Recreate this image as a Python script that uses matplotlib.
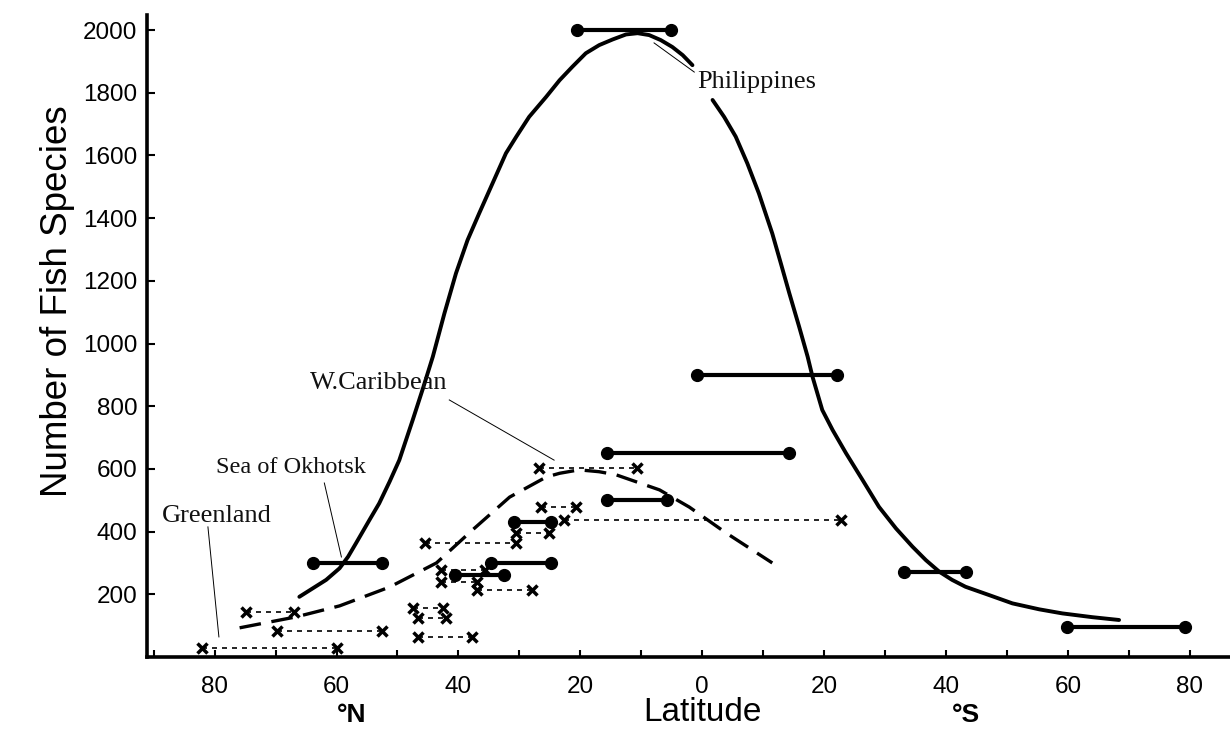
import numpy as np
import matplotlib
matplotlib.use("Agg")
import matplotlib.pyplot as plt

# latitude: north negative, south positive (labels show absolute degrees)
total_lat = [-66.1, -63.9, -61.7, -59.5, -58.1, -56.8, -54.6, -53.0, -51.3, -49.7,
             -48.6, -47.5, -45.8, -44.2, -42.3, -40.4, -38.5, -36.6, -34.4, -32.2,
             -30.5, -28.4, -25.6, -23.4, -21.3, -19.1, -16.9, -14.7, -12.5, -10.6,
             -8.7, -6.8, -4.9, -3.2, -1.6]
total_species = [192, 219, 246, 283, 320, 363, 437, 490, 559, 628,
                 692, 756, 858, 958, 1096, 1224, 1330, 1415, 1511, 1607,
                 1660, 1723, 1787, 1840, 1883, 1926, 1952, 1970, 1986, 1990,
                 1984, 1968, 1946, 1920, 1888]
total_lat_s = [1.7, 3.6, 5.5, 7.4, 9.3, 10.4, 11.5, 12.9, 14.3, 15.9, 17.3, 18.1,
               19.7, 21.4, 23.6, 26.3, 29.0, 31.8, 34.5, 36.7, 38.9, 41.0, 43.2,
               47.0, 50.9, 55.3, 59.1, 64.0, 68.4]
total_species_s = [1777, 1723, 1660, 1575, 1479, 1415, 1351, 1256, 1160, 1054, 958, 894,
                   788, 724, 650, 565, 479, 410, 352, 309, 272, 246, 224,
                   198, 171, 152, 139, 127, 118]

atlantic_lat = [-75.9, -66.6, -59.5, -51.3, -43.6, -37.7, -31.6, -25.6, -23.4, -20.2,
                -16.9, -14.1, -7.0, -2.1, 3.9, 11.5]
atlantic_species = [93, 128, 163, 223, 300, 405, 510, 574, 586, 597,
                    591, 581, 533, 478, 396, 300]

# Indo-Pacific sites: latitude range and species count
pacific_from = [-20.5, -0.8, -15.6, -15.6, -30.8, -34.6, -40.5, -63.9, 33.1, 59.8]
pacific_to = [-5.1, 22.1, 14.3, -5.7, -24.8, -24.8, -32.5, -52.6, 43.3, 79.3]
pacific_count = [2000, 900, 650, 500, 430, 300, 262, 300, 270, 96]

# Atlantic sites
atl_from = [-82.1, -74.8, -69.7, -46.7, -47.5, -46.7, -37.0, -42.8, -42.8,
            -45.5, -30.5, -26.4, -22.6, -26.7]
atl_to = [-60.0, -66.9, -52.6, -37.7, -42.6, -42.0, -27.9, -35.7, -36.9,
          -30.5, -25.1, -20.7, 22.8, -10.7]
atl_count = [30, 143, 83, 64, 156, 124, 214, 278, 240, 365, 395, 478, 437, 603]

# name, text position, leader line start, leader line end, font size
site_labels = [
    ("Philippines", (9.0, 1834), (-1.3, 1866), (-7.9, 1959), 19),
    ("W.Caribbean", (-53.0, 874), (-41.5, 820), (-24.3, 628), 19),
    ("Sea of Okhotsk", (-67.5, 606), (-62.0, 555), (-59.2, 319), 17.5),
    ("Greenland", (-79.7, 450), (-81.1, 415), (-79.3, 64), 19),
]

x_ticks = [-80, -60, -40, -20, 0, 20, 40, 60, 80]
x_tick_labels = ["80", "60", "40", "20", "0", "20", "40", "60", "80"]
y_ticks = [200, 400, 600, 800, 1000, 1200, 1400, 1600, 1800, 2000]

plt.rcParams['font.family'] = ['Liberation Sans', 'DejaVu Sans']

fig = plt.figure(figsize=(12.3, 7.29), dpi=100)
ax = fig.add_axes([0.1195, 0.0988, 0.8795, 0.8806])
ax.set_xlim(-91.1, 86.4)
ax.set_ylim(0, 2048)

# bell curves
curve_kw = dict(color='black', lw=2.8, solid_capstyle='round', solid_joinstyle='round')
ax.plot(total_lat, total_species, **curve_kw)
ax.plot(total_lat_s, total_species_s, **curve_kw)
ax.plot(atlantic_lat, atlantic_species, color='black', lw=2.4,
        linestyle=(0, (6.5, 3.2)), dash_joinstyle='round')

# dotted ranges with x ends
for a, b, v in zip(atl_from, atl_to, atl_count):
    ax.plot([a, b], [v, v], color='black', lw=1.2, linestyle=(0, (3, 3)),
            marker='x', markersize=7, markeredgewidth=2.5)

# solid ranges with dot ends
for a, b, v in zip(pacific_from, pacific_to, pacific_count):
    ax.plot([a, b], [v, v], color='black', lw=3, marker='o', markersize=8.5)

for name, txt, p0, p1, fs in site_labels:
    ax.plot([p0[0], p1[0]], [p0[1], p1[1]], color='black', lw=0.7)
    ax.text(txt[0], txt[1], name, family='Liberation Serif', fontsize=fs,
            ha='center', va='center', color='#111111')

for side in ['top', 'right']:
    ax.spines[side].set_visible(False)
for side in ['left', 'bottom']:
    ax.spines[side].set_linewidth(2.6)

ax.set_xticks(x_ticks)
ax.set_xticklabels(x_tick_labels)
ax.set_xticks(np.arange(-90, 90, 10), minor=True)
ax.set_yticks(y_ticks)
ax.tick_params(axis='both', direction='in', labelsize=17.5, width=1.5)
ax.tick_params(axis='x', length=5, pad=14)
ax.tick_params(axis='x', which='minor', direction='in', length=5, width=1.5)
ax.tick_params(axis='y', length=6, pad=7)

xax = ax.get_xaxis_transform()
ax.text(0, -0.087, "Latitude", transform=xax, ha='center', va='center', fontsize=24)
ax.text(-57.6, -0.09, "°N", transform=xax, ha='center', va='center', fontsize=19,
        fontweight='bold')
ax.text(43.3, -0.09, "°S", transform=xax, ha='center', va='center', fontsize=19,
        fontweight='bold')
fig.text(58 / 1230, 1 - 301 / 729, "Number of Fish Species", rotation=90,
         ha='center', va='center', fontsize=26.5)

fig.savefig("out.png", dpi=100)
